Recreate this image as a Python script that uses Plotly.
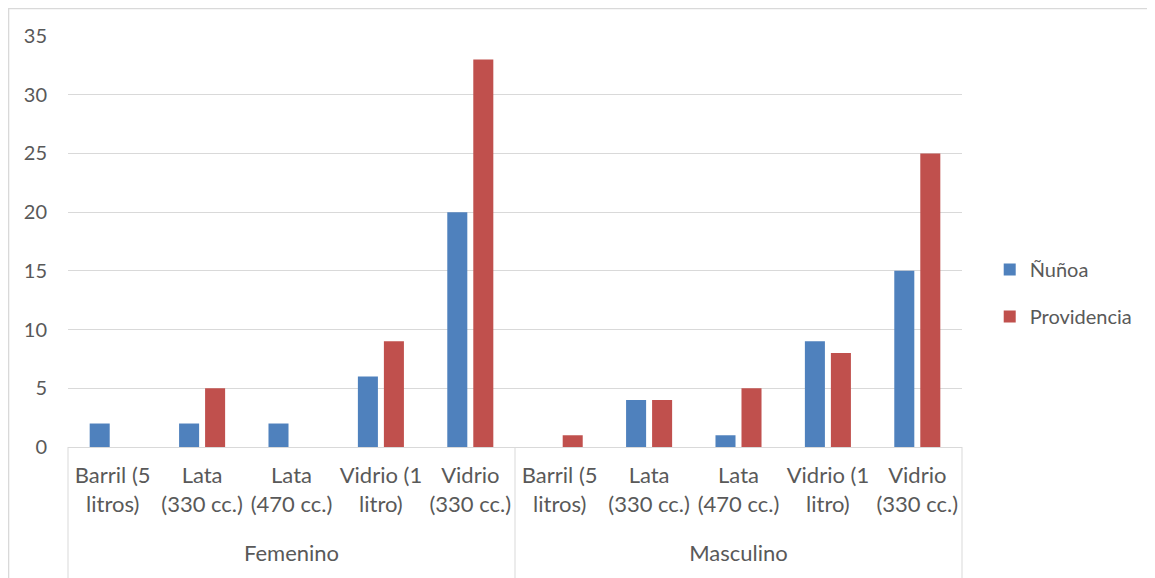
import plotly.graph_objects as go

groups = ["<br>Femenino"] * 5 + ["<br>Masculino"] * 5
cats = ["Barril (5<br>litros)", "Lata<br>(330 cc.)", "Lata<br>(470 cc.)", "Vidrio (1<br>litro)", "Vidrio<br>(330 cc.)"] * 2
nunoa = [2, 2, 2, 6, 20, 0, 4, 1, 9, 15]
providencia = [0, 5, 0, 9, 33, 1, 4, 5, 8, 25]
series_names = ["Ñuñoa", "Providencia"]
colors = ["#4F81BD", "#C0504D"]

FONT = "Lato"
TXT = "#595959"
GRID = "#D9D9D9"
FS = 20

fig = go.Figure()
for name, vals, col, g in zip(series_names, [nunoa, providencia], colors, ["a", "b"]):
    fig.add_trace(go.Bar(x=[groups, cats], y=vals, name=name, marker_color=col,
                         marker_line_width=0, legendgroup=g))

fig.update_layout(
    width=1155, height=578,
    margin=dict(l=60, r=201, t=28, b=139),
    paper_bgcolor="white", plot_bgcolor="white",
    font=dict(family=FONT, size=FS, color=TXT),
    barmode="group", bargap=0.418, bargroupgap=0.23,
    legend=dict(x=1.031, y=0.375, xanchor="left", yanchor="middle",
                font=dict(family=FONT, size=FS, color=TXT),
                tracegroupgap=18, itemwidth=30),
    showlegend=True,
)
fig.update_yaxes(range=[0, 35], dtick=5, showgrid=True, gridcolor=GRID, gridwidth=1,
                 zeroline=False, showline=False, ticks="", ticklabelstandoff=20,
                 tickfont=dict(family=FONT, size=FS, color=TXT))
fig.update_xaxes(showline=True, linecolor=GRID, linewidth=1, ticks="",
                 showdividers=False, ticklabelstandoff=9,
                 tickfont=dict(family=FONT, size=22, color=TXT))

# vertical separators for the grouped category axis
for xp in [0, 0.5, 1]:
    fig.add_shape(type="line", xref="paper", yref="paper", x0=xp, x1=xp, y0=0, y1=-0.36,
                  line=dict(color=GRID, width=1))
# chart border
fig.add_shape(type="rect", xref="paper", yref="paper", x0=-0.0665, x1=1.25, y0=-0.4, y1=1.067,
              line=dict(color=GRID, width=1.5), fillcolor="rgba(0,0,0,0)")

fig.write_html("out.html")
